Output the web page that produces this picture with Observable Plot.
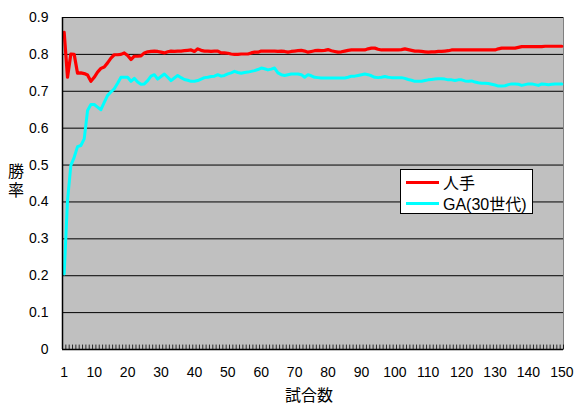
<!DOCTYPE html>
<html>
<head>
<meta charset="utf-8">
<script src="https://cdn.jsdelivr.net/npm/d3@7"></script>
<script src="https://cdn.jsdelivr.net/npm/@observablehq/plot@0.6"></script>
<style>
  body { margin: 0; background: #fff; }
  #wrap { position: relative; width: 574px; height: 405px; overflow: hidden; font-family: "Liberation Sans", Arial, "Noto Sans CJK JP", sans-serif; }
  .ov { position: absolute; color: #000; white-space: nowrap; }
  #legend { position: absolute; left: 400px; top: 169px; width: 133px; height: 45px; background: #fff; border: 1px solid #000; box-sizing: border-box; font-size: 16px; }
  .lrow { position: absolute; left: 5px; height: 20px; display: flex; align-items: center; }
  .lline { width: 33px; height: 3px; margin-right: 4px; }
</style>
</head>
<body>
<div id="wrap"></div>
<script>
// categories: game numbers 1..150
const games = d3.range(1, 151);
const xTickLabels = [1, 10, 20, 30, 40, 50, 60, 70, 80, 90, 100, 110, 120, 130, 140, 150];
const yTickValues = [0, 0.1, 0.2, 0.3, 0.4, 0.5, 0.6, 0.7, 0.8, 0.9];
const seriesNames = ["人手", "GA(30世代)"];

// 人手 (human-tuned) win rate
const humanRate = [
  0.860, 0.738, 0.801, 0.800, 0.749, 0.750, 0.748, 0.744, 0.727, 0.738,
  0.752, 0.762, 0.766, 0.777, 0.790, 0.799, 0.799, 0.800, 0.804, 0.797,
  0.786, 0.795, 0.795, 0.796, 0.804, 0.807, 0.808, 0.809, 0.808, 0.806,
  0.804, 0.807, 0.809, 0.808, 0.809, 0.809, 0.810, 0.811, 0.812, 0.808,
  0.815, 0.811, 0.809, 0.809, 0.808, 0.809, 0.809, 0.804, 0.804, 0.803,
  0.801, 0.800, 0.800, 0.801, 0.801, 0.801, 0.804, 0.806, 0.806, 0.809,
  0.809, 0.809, 0.809, 0.809, 0.808, 0.809, 0.808, 0.806, 0.808, 0.809,
  0.810, 0.811, 0.809, 0.806, 0.808, 0.810, 0.811, 0.810, 0.811, 0.813,
  0.810, 0.808, 0.806, 0.807, 0.809, 0.811, 0.812, 0.812, 0.812, 0.812,
  0.812, 0.815, 0.817, 0.817, 0.814, 0.812, 0.812, 0.812, 0.812, 0.812,
  0.812, 0.813, 0.815, 0.813, 0.811, 0.809, 0.809, 0.808, 0.807, 0.806,
  0.807, 0.807, 0.808, 0.808, 0.809, 0.810, 0.812, 0.812, 0.812, 0.812,
  0.812, 0.812, 0.812, 0.812, 0.812, 0.812, 0.812, 0.812, 0.812, 0.812,
  0.815, 0.817, 0.817, 0.817, 0.817, 0.817, 0.819, 0.821, 0.821, 0.821,
  0.821, 0.821, 0.821, 0.821, 0.822, 0.822, 0.822, 0.822, 0.822, 0.822
];

// GA(30世代) win rate
const gaRate = [
  0.205, 0.404, 0.499, 0.521, 0.550, 0.553, 0.571, 0.648, 0.664, 0.664,
  0.657, 0.650, 0.670, 0.689, 0.698, 0.707, 0.722, 0.738, 0.738, 0.738,
  0.727, 0.735, 0.725, 0.719, 0.720, 0.729, 0.741, 0.745, 0.733, 0.740,
  0.747, 0.738, 0.729, 0.736, 0.743, 0.737, 0.732, 0.730, 0.727, 0.727,
  0.729, 0.733, 0.737, 0.738, 0.740, 0.741, 0.745, 0.741, 0.743, 0.747,
  0.750, 0.754, 0.751, 0.749, 0.751, 0.752, 0.754, 0.756, 0.759, 0.763,
  0.761, 0.758, 0.760, 0.763, 0.750, 0.745, 0.743, 0.745, 0.747, 0.747,
  0.747, 0.745, 0.738, 0.745, 0.742, 0.738, 0.737, 0.736, 0.736, 0.736,
  0.736, 0.736, 0.736, 0.736, 0.736, 0.738, 0.741, 0.741, 0.743, 0.745,
  0.747, 0.745, 0.742, 0.738, 0.737, 0.738, 0.740, 0.738, 0.737, 0.737,
  0.737, 0.737, 0.735, 0.732, 0.730, 0.727, 0.727, 0.727, 0.729, 0.731,
  0.732, 0.733, 0.734, 0.734, 0.733, 0.731, 0.731, 0.729, 0.731, 0.731,
  0.728, 0.727, 0.728, 0.725, 0.723, 0.722, 0.722, 0.721, 0.719, 0.717,
  0.714, 0.714, 0.715, 0.718, 0.720, 0.720, 0.719, 0.716, 0.718, 0.720,
  0.720, 0.718, 0.716, 0.720, 0.719, 0.718, 0.719, 0.720, 0.720, 0.720
];
const colors = ["#ff0000", "#00ffff"];

const boundaries = d3.range(0, 151).map(i => i + 0.5);
const grid = yTickValues.filter(v => v > 0);

const chart = Plot.plot({
  width: 574,
  height: 405,
  marginLeft: 62,
  marginRight: 11,
  marginTop: 17,
  marginBottom: 56,
  style: { fontFamily: '"Liberation Sans", Arial, "Noto Sans CJK JP", sans-serif', background: "#fff", overflow: "visible" },
  x: { type: "linear", domain: [0.5, 150.5] },
  y: { domain: [0, 0.9] },
  marks: [
    Plot.frame({ fill: "#c0c0c0", stroke: "#808080" }),
    Plot.ruleY(grid, { stroke: "#000", strokeWidth: 1 }),
    Plot.ruleX(boundaries, { y1: 0, y2: 0.012, stroke: "#000", strokeWidth: 0.8 }),
    Plot.line(gaRate, { x: (d, i) => games[i], y: d => d, stroke: colors[1], strokeWidth: 3, strokeLinejoin: "round" }),
    Plot.line(humanRate, { x: (d, i) => games[i], y: d => d, stroke: colors[0], strokeWidth: 3.2, strokeLinejoin: "round" }),
    Plot.ruleY([0], { stroke: "#000", strokeWidth: 1.5 }),
    Plot.ruleX([0.5], { stroke: "#000", strokeWidth: 1.5 }),
    Plot.axisX(xTickLabels, { tickSize: 0, tickPadding: 18, fontSize: 14, label: null, tickFormat: d => String(d), fill: "#000" }),
    Plot.axisY(yTickValues, { tickSize: 0, tickPadding: 14, fontSize: 14, label: null, tickFormat: d => d === 0 ? "0" : d.toFixed(1), fill: "#000" })
  ]
});

const wrap = document.getElementById("wrap");
wrap.appendChild(chart);

// y title (stacked characters)
const yt = document.createElement("div");
yt.className = "ov";
yt.style.cssText = "left:7px;top:162px;font-size:16px;line-height:19px;width:18px;text-align:center;white-space:normal;";
yt.innerHTML = "勝<br>率";
wrap.appendChild(yt);

// x title
const xt = document.createElement("div");
xt.className = "ov";
xt.style.cssText = "left:285px;top:387px;font-size:16px;line-height:17px;";
xt.textContent = "試合数";
wrap.appendChild(xt);

// legend
const lg = document.createElement("div");
lg.id = "legend";
seriesNames.forEach((name, i) => {
  const row = document.createElement("div");
  row.className = "lrow";
  row.style.top = (i === 0 ? 2 : 23) + "px";
  const ln = document.createElement("div");
  ln.className = "lline";
  ln.style.background = colors[i];
  const tx = document.createElement("span");
  tx.textContent = name;
  row.appendChild(ln);
  row.appendChild(tx);
  lg.appendChild(row);
});
wrap.appendChild(lg);
</script>
</body>
</html>
